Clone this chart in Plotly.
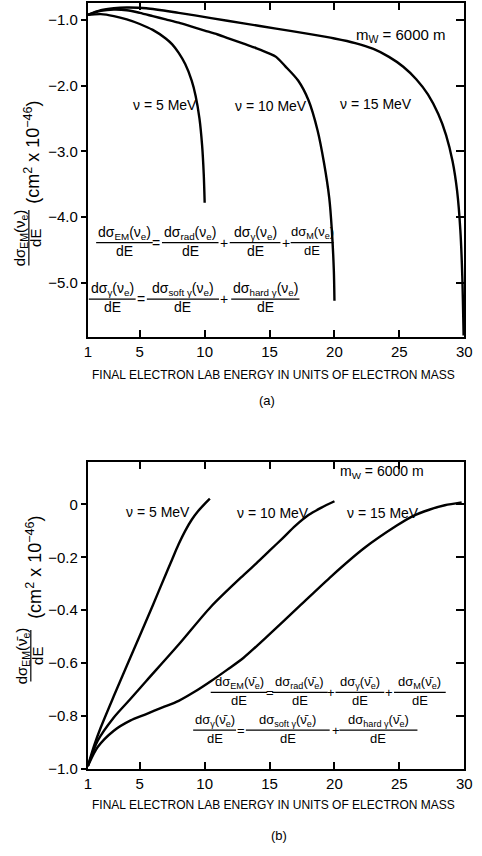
import plotly.graph_objects as go

W, H = 482, 856
FONT = "Liberation Sans, Arial, DejaVu Sans, sans-serif"

# ---------------- data ----------------
x_ticks = [1, 5, 10, 15, 20, 25, 30]
x_ticktext = ["1", "5", "10", "15", "20", "25", "30"]
a_y_ticks = [-1.0, -2.0, -3.0, -4.0, -5.0]
a_y_ticktext = ["−1.0", "−2.0", "−3.0", "−4.0", "−5.0"]
b_y_ticks = [0.0, -0.2, -0.4, -0.6, -0.8, -1.0]
b_y_ticktext = ["0", "−0.2", "−0.4", "−0.6", "−0.8", "−1.0"]

# (a) neutrino
a5_x = [1, 2, 3, 4, 5, 6, 7, 7.5, 8, 8.5, 9, 9.3, 9.6, 9.8, 9.93, 10.0]
a5_y = [-0.92, -0.91, -0.94, -0.99, -1.06, -1.15, -1.28, -1.37, -1.50, -1.67, -1.92, -2.15, -2.50, -2.90, -3.35, -3.78]
a10_x = [1, 2, 3, 4, 5, 6, 7, 8, 9, 10, 11, 12, 13, 14, 15, 15.5, 16.2, 17.2, 18, 18.7, 19.2, 19.6, 19.8, 19.95, 20.0]
a10_y = [-0.92, -0.86, -0.84, -0.85, -0.89, -0.94, -0.99, -1.04, -1.10, -1.16, -1.22, -1.29, -1.36, -1.43, -1.51,
         -1.56, -1.70, -1.92, -2.22, -2.68, -3.18, -3.71, -4.20, -4.80, -5.27]
a15_x = [1, 2, 3, 4, 5.5, 8, 10.5, 13, 15.5, 18, 20, 21.6, 23, 24.2, 25.3, 26.3, 27.2, 28, 28.6, 29.1, 29.45, 29.7, 29.85, 29.95]
a15_y = [-0.92, -0.85, -0.82, -0.81, -0.82, -0.89, -0.97, -1.05, -1.13, -1.21, -1.28, -1.35, -1.44, -1.56, -1.71,
         -1.90, -2.13, -2.43, -2.75, -3.15, -3.60, -4.20, -4.90, -5.80]

# (b) antineutrino
b5_x = [1.0, 1.5, 2.0, 3.0, 4.0, 5.0, 6.0, 7.0, 7.5, 8.0, 8.5, 9.0, 9.5, 10.0, 10.4]
b5_y = [-0.99, -0.91, -0.843, -0.725, -0.61, -0.497, -0.382, -0.265, -0.207, -0.150, -0.100, -0.058, -0.025, 0.002, 0.022]
b10_x = [1.0, 1.76, 3.0, 4.26, 5.5, 8.0, 10.5, 13.0, 14.0, 15.0, 16.0, 17.0, 18.0, 19.0, 20.0]
b10_y = [-0.99, -0.894, -0.806, -0.737, -0.668, -0.530, -0.386, -0.267, -0.222, -0.175, -0.128, -0.080, -0.040, -0.012, 0.012]
b15_x = [1.0, 1.76, 3.0, 4.26, 5.5, 6.75, 8.0, 9.25, 10.5, 11.75, 13.0, 14.8, 17.3, 19.8, 22.3, 24.8, 26.0, 27.3, 28.5, 29.8]
b15_y = [-0.99, -0.918, -0.856, -0.818, -0.793, -0.768, -0.743, -0.708, -0.668, -0.625, -0.580, -0.500, -0.385, -0.270,
         -0.165, -0.080, -0.045, -0.020, -0.003, 0.008]

nu_labels = ["ν = 5 MeV", "ν = 10 MeV", "ν = 15 MeV"]
mass_label = "m<sub>W</sub> = 6000 m"
x_title = "FINAL ELECTRON LAB ENERGY IN UNITS OF ELECTRON MASS"
unit_label = "(cm<sup>2</sup> x 10<sup>−46</sup>)"

NU = "ν"
NUB = "ν\u0304"
def terms(n):
    return [
        "dσ<sub>EM</sub>(" + n + "<sub>e</sub>)",
        "dσ<sub>rad</sub>(" + n + "<sub>e</sub>)",
        "dσ<sub>γ</sub>(" + n + "<sub>e</sub>)",
        "dσ<sub>M</sub>(" + n + "<sub>e</sub>)",
        "dσ<sub>soft γ</sub>(" + n + "<sub>e</sub>)",
        "dσ<sub>hard γ</sub>(" + n + "<sub>e</sub>)",
    ]

# ---------------- figure ----------------
fig = go.Figure()
line = dict(color="black", width=2.4, shape="spline", smoothing=0.8)
for xs, ys in [(a5_x, a5_y), (a10_x, a10_y), (a15_x, a15_y)]:
    fig.add_trace(go.Scatter(x=xs, y=ys, mode="lines", line=line, xaxis="x", yaxis="y",
                             showlegend=False, hoverinfo="skip"))
for xs, ys in [(b5_x, b5_y), (b10_x, b10_y), (b15_x, b15_y)]:
    fig.add_trace(go.Scatter(x=xs, y=ys, mode="lines", line=line, xaxis="x2", yaxis="y2",
                             showlegend=False, hoverinfo="skip"))
# invisible helpers so the right-hand tick axes are drawn
fig.add_trace(go.Scatter(x=[x_ticks[0]], y=[a_y_ticks[0]], mode="markers", marker=dict(opacity=0),
                         xaxis="x", yaxis="y3", showlegend=False, hoverinfo="skip"))
fig.add_trace(go.Scatter(x=[x_ticks[0]], y=[b_y_ticks[0]], mode="markers", marker=dict(opacity=0),
                         xaxis="x2", yaxis="y4", showlegend=False, hoverinfo="skip"))

def X(p): return p / W
def Y(p): return 1 - p / H

xdom = [X(86), X(472)]
ydom_a = [Y(340), Y(3)]
ydom_b = [Y(776), Y(466)]
a_range = [-5.82, -0.74]
b_range = [-1.0, 0.162]

tickfont = dict(family=FONT, size=15, color="black")
xcommon = dict(range=[1, 30], tickvals=x_ticks, ticktext=x_ticktext, ticks="inside", ticklen=7,
               tickwidth=1.5, tickcolor="black", showline=True, linecolor="black", linewidth=2,
               mirror="ticks", showgrid=False, zeroline=False, tickfont=tickfont, domain=xdom)
ycommon = dict(ticks="outside", ticklen=5, tickwidth=1.5, tickcolor="black", showline=True,
               linecolor="black", linewidth=2, mirror=True, showgrid=False, zeroline=False,
               tickfont=tickfont)
rcommon = dict(ticks="inside", ticklen=8, tickwidth=1.5, tickcolor="black", showline=False,
               showticklabels=False, showgrid=False, zeroline=False, side="right")

fig.update_layout(
    width=W, height=H, margin=dict(l=0, r=0, t=0, b=0),
    paper_bgcolor="white", plot_bgcolor="white",
    xaxis=dict(anchor="y", **xcommon),
    xaxis2=dict(anchor="y2", **xcommon),
    yaxis=dict(anchor="x", domain=ydom_a, range=a_range, tickvals=a_y_ticks, ticktext=a_y_ticktext, **ycommon),
    yaxis2=dict(anchor="x2", domain=ydom_b, range=b_range, tickvals=b_y_ticks, ticktext=b_y_ticktext, **ycommon),
    yaxis3=dict(overlaying="y", anchor="x", range=a_range, tickvals=a_y_ticks, **rcommon),
    yaxis4=dict(overlaying="y2", anchor="x2", range=b_range, tickvals=b_y_ticks, **rcommon),
)

ann = []
shapes = []

def text(x, y, s, size=14, angle=0, xa="center", ya="middle"):
    ann.append(dict(x=X(x), y=Y(y), xref="paper", yref="paper", text=s, showarrow=False,
                    font=dict(family=FONT, size=size, color="black"), xanchor=xa, yanchor=ya,
                    textangle=angle, borderpad=0))

def hline(x0, x1, y, w=1.2):
    shapes.append(dict(type="line", xref="paper", yref="paper", x0=X(x0), x1=X(x1), y0=Y(y), y1=Y(y),
                       line=dict(color="black", width=w)))

def vline(x, y0, y1, w=1.2):
    shapes.append(dict(type="line", xref="paper", yref="paper", x0=X(x), x1=X(x), y0=Y(y0), y1=Y(y1),
                       line=dict(color="black", width=w)))

def frac(xc, yl, width, num, size=14):
    text(xc, yl - 10, num, size=size)
    hline(xc - width / 2, xc + width / 2, yl)
    text(xc, yl + 8, "dE", size=size)

def equations(n, spec1, ops1, spec2, ops2, sizes1, sizes2):
    t = terms(n)
    (yl1, fr1) = spec1
    for (xc, w), i, s in zip(fr1, [0, 1, 2, 3], sizes1):
        frac(xc, yl1, w, t[i], s)
    for (xo, s) in ops1:
        text(xo, yl1, s, size=sizes1[0])
    (yl2, fr2) = spec2
    for (xc, w), i, s in zip(fr2, [2, 4, 5], sizes2):
        frac(xc, yl2, w, t[i], s)
    for (xo, s) in ops2:
        text(xo, yl2, s, size=sizes2[0])

# ---- panel (a) texts ----
text(407, 36, mass_label, size=15)
text(165, 106, nu_labels[0], size=14)
text(274, 107, nu_labels[1], size=14)
text(381, 105, nu_labels[2], size=14)
equations(NU,
          (245, [(123.5, 58), (191, 58), (257.5, 52), (316, 44)]),
          [(156, "="), (226, "+"), (289, "+")],
          (302, [(111, 48), (183.5, 74), (268, 70)]),
          [(141, "="), (226, "+")], [14, 14, 14, 13], [14, 14, 14])
text(276, 379, x_title, size=12)
text(270, 404, "(a)", size=13)
# y title (a)
text(17, 240, terms(NU)[0], size=15, angle=-90)
vline(25.5, 212, 268)
text(33, 240, "dE", size=15, angle=-90)
text(29, 154, unit_label, size=18, angle=-90)

# ---- panel (b) texts ----
text(388, 476, mass_label, size=14)
text(158, 517, nu_labels[0], size=14)
text(276, 518, nu_labels[1], size=14)
text(389, 518, nu_labels[2], size=14)
equations(NUB,
          (699, [(241, 58), (303.5, 57), (365, 50), (426.5, 53)]),
          [(273, "="), (335, "+"), (395, "+")],
          (737, [(216, 44), (291, 86), (384, 80)]),
          [(243, "="), (340, "+")], [13, 13, 13, 13], [13, 13, 13])
text(276, 813, x_title, size=12)
text(282, 843, "(b)", size=13)
# y title (b)
text(19, 662, terms(NUB)[0], size=15, angle=-90)
vline(27.5, 636, 688)
text(35, 662, "dE", size=15, angle=-90)
text(31, 573, unit_label, size=18, angle=-90)

fig.update_layout(annotations=ann, shapes=shapes)
fig.write_html("out.html")
